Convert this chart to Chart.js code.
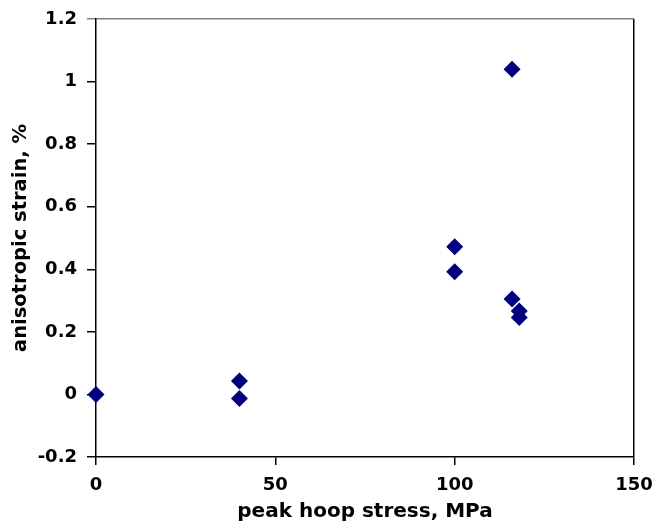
<!DOCTYPE html>
<html>
<head>
<meta charset="utf-8">
<script src="https://cdn.jsdelivr.net/npm/chart.js@4/dist/chart.umd.min.js"></script>
<style>
  html, body { margin: 0; padding: 0; background: #ffffff; }
  #wrap { width: 653px; height: 524px; }
</style>
</head>
<body>
<div id="wrap"><canvas id="c" width="653" height="524"></canvas></div>
<script>
// Data
const peakHoopStress = [0, 40, 40, 100, 100, 116, 116, 118, 118];   // MPa
const anisotropicStrain = [0, 0.043, -0.013, 0.472, 0.392, 1.039, 0.305, 0.267, 0.246]; // %
const xTickLabels = ['0', '50', '100', '150'];
const yTickLabels = ['-0.2', '0', '0.2', '0.4', '0.6', '0.8', '1', '1.2'];
const xTitle = 'peak hoop stress, MPa';
const yTitle = 'anisotropic strain, %';

const points = peakHoopStress.map((x, i) => ({ x: x, y: anisotropicStrain[i] }));
const FONT = { family: '"DejaVu Sans", sans-serif', size: 18, weight: 'bold' };
const XTITLE_FONT = { family: '"DejaVu Sans", sans-serif', size: 20, weight: 'bold' };
const YTITLE_FONT = { family: '"DejaVu Sans", sans-serif', size: 19.5, weight: 'bold' };

new Chart(document.getElementById('c'), {
  type: 'scatter',
  data: {
    datasets: [{
      data: points,
      clip: false,
      pointStyle: 'rectRot',
      pointRadius: 8.5,
      pointHoverRadius: 8.5,
      backgroundColor: '#000080',
      borderColor: '#000080',
      borderWidth: 0
    }]
  },
  options: {
    responsive: false,
    animation: false,
    events: [],
    layout: { padding: { left: 0, right: 0, top: 0, bottom: 0 } },
    plugins: { legend: { display: false }, tooltip: { enabled: false } },
    scales: {
      x: {
        type: 'linear',
        min: 0, max: 150,
        afterFit: s => { s.height = 67; s.paddingLeft = 0; s.paddingRight = 19; },
        afterBuildTicks: s => { s.ticks = xTickLabels.map(v => ({ value: Number(v) })); },
        border: { display: true, color: '#000000', width: 1.5 },
        grid: {
          drawOnChartArea: true,
          drawTicks: true,
          tickLength: 8,
          lineWidth: 1.5,
          color: ctx => (ctx.tick && ctx.tick.value === 150 ? '#000000' : 'rgba(0,0,0,0)'),
          tickColor: '#000000',
          tickWidth: 1.5
        },
        ticks: {
          color: '#000000',
          font: FONT,
          padding: 10,
          maxRotation: 0,
          callback: (v) => xTickLabels[xTickLabels.indexOf(String(v))] ?? ''
        },
        title: {
          display: true,
          text: xTitle,
          color: '#000000',
          font: XTITLE_FONT,
          padding: { top: 0, bottom: 0 }
        }
      },
      y: {
        type: 'linear',
        min: -0.2, max: 1.2,
        afterFit: s => { s.width = 96; s.paddingTop = 19; s.paddingBottom = 0; },
        afterBuildTicks: s => { s.ticks = yTickLabels.map(v => ({ value: Number(v) })); },
        border: { display: true, color: '#000000', width: 1.5 },
        grid: {
          drawOnChartArea: true,
          drawTicks: true,
          tickLength: 9,
          lineWidth: 1.5,
          color: ctx => (ctx.tick && Math.abs(ctx.tick.value - 1.2) < 1e-9 ? '#808080' : 'rgba(0,0,0,0)'),
          tickColor: ctx => (ctx.tick && Math.abs(ctx.tick.value - 1.2) < 1e-9 ? '#808080' : '#000000'),
          tickWidth: 1.5
        },
        ticks: {
          color: '#000000',
          font: FONT,
          padding: 10,
          callback: (v) => {
            const i = yTickLabels.findIndex(t => Math.abs(Number(t) - v) < 1e-9);
            return i >= 0 ? yTickLabels[i] : '';
          }
        },
        title: {
          display: true,
          text: yTitle,
          color: '#000000',
          font: YTITLE_FONT,
          padding: { top: 9, bottom: 0 }
        }
      }
    }
  }
});
</script>
</body>
</html>
